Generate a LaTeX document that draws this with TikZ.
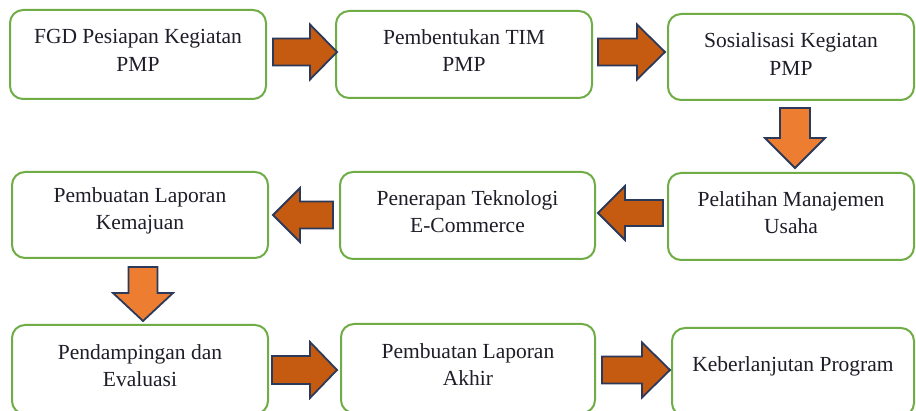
\documentclass[tikz,border=0pt]{standalone}
\usepackage{fontspec}
\setmainfont{Liberation Serif}
\definecolor{boxgreen}{HTML}{70AD47}
\definecolor{arrdark}{HTML}{C55A11}
\definecolor{arrlight}{HTML}{ED7D31}
\definecolor{arrline}{HTML}{2B3A5A}
\definecolor{txtcol}{HTML}{1E1E28}
\tikzset{
  flowbox/.style={draw=boxgreen, line width=2pt, rounded corners=13pt, fill=white, inner sep=0pt},
  flowtxt/.style={align=center, text=txtcol, font=\fontsize{21.5}{27.5}\selectfont, inner sep=0pt},
  harr/.style={draw=arrline, line width=1.8pt, fill=arrdark, line join=miter},
  varr/.style={draw=arrline, line width=1.8pt, fill=arrlight, line join=miter}
}
% horizontal block arrow: tail x, head-base x, tip x, centre y, shaft half, head half
\newcommand\harrowshape[6]{%
  \path[harr] (#1,#4-#5) -- (#2,#4-#5) -- (#2,#4-#6) -- (#3,#4) -- (#2,#4+#6) -- (#2,#4+#5) -- (#1,#4+#5) -- cycle;}
% vertical block arrow: tail y, head-base y, tip y, centre x, shaft half, head half
\newcommand\varrowshape[6]{%
  \path[varr] (#4-#5,#1) -- (#4-#5,#2) -- (#4-#6,#2) -- (#4,#3) -- (#4+#6,#2) -- (#4+#5,#2) -- (#4+#5,#1) -- cycle;}
\begin{document}
\begin{tikzpicture}[x=1pt,y=-1pt]
\useasboundingbox (0,0) rectangle (916,411);
\fill[white] (0,0) rectangle (916,411);
% boxes
\node[flowbox, minimum width=256pt, minimum height=89pt] (b1) at (138,54.5) {};
\node[flowbox, minimum width=256pt, minimum height=87pt] (b2) at (464,54.5) {};
\node[flowbox, minimum width=246pt, minimum height=86pt] (b3) at (791,57) {};
\node[flowbox, minimum width=256pt, minimum height=86pt] (b4) at (140,215) {};
\node[flowbox, minimum width=255pt, minimum height=87pt] (b5) at (467.5,215.5) {};
\node[flowbox, minimum width=246pt, minimum height=87pt] (b6) at (791,216.5) {};
\node[flowbox, minimum width=256pt, minimum height=89pt] (b7) at (140,369.5) {};
\node[flowbox, minimum width=254pt, minimum height=89pt] (b8) at (468,368.5) {};
\node[flowbox, minimum width=242pt, minimum height=88pt] (b9) at (793,372) {};
% texts
\node[flowtxt] (t1) at ([yshift=4pt]b1.center) {FGD Pesiapan Kegiatan\\PMP};
\node[flowtxt] (t2) at ([yshift=4pt]b2.center) {Pembentukan TIM\\PMP};
\node[flowtxt] (t3) at ([yshift=3pt]b3.center) {Sosialisasi Kegiatan\\PMP};
\node[flowtxt] (t4) at ([yshift=4pt]b4.center) {Pembuatan Laporan\\Kemajuan};
\node[flowtxt] (t5) at ([yshift=4pt]b5.center) {Penerapan Teknologi\\E-Commerce};
\node[flowtxt] (t6) at ([yshift=4pt]b6.center) {Pelatihan Manajemen\\Usaha};
\node[flowtxt] (t7) at ([yshift=4pt]b7.center) {Pendampingan dan\\Evaluasi};
\node[flowtxt] (t8) at ([yshift=4pt]b8.center) {Pembuatan Laporan\\Akhir};
\node[flowtxt] (t9) at ([yshift=6pt]b9.center) {Keberlanjutan Program};
% arrows
\harrowshape{273}{310}{337}{52}{13.5}{27.5}
\harrowshape{598}{637}{665}{52}{13.5}{27.5}
\varrowshape{108}{138}{168}{795}{15}{30}
\harrowshape{663}{625}{598}{213}{13}{27}
\harrowshape{333}{300}{273}{215}{13.5}{27}
\varrowshape{267}{293}{321}{143}{14.5}{30}
\harrowshape{272}{310}{337}{370}{14}{28}
\harrowshape{602}{642}{670}{370}{13.5}{27.5}
\end{tikzpicture}
\end{document}
